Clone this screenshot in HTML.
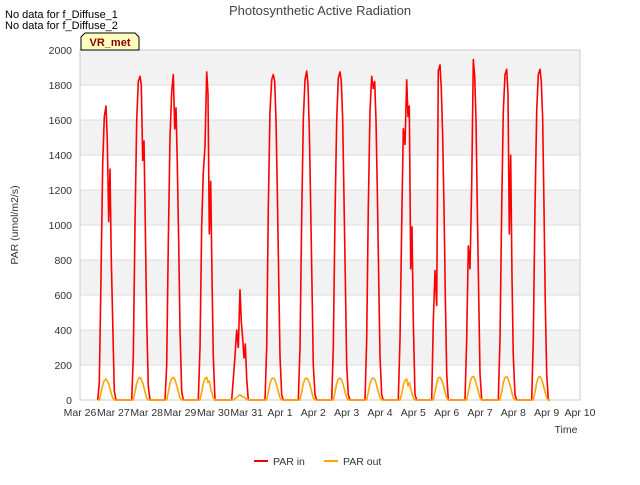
<!DOCTYPE html>
<html><head><meta charset="utf-8"><style>
body{margin:0;background:#fff;font-family:"Liberation Sans",sans-serif;}
svg text{font-family:"Liberation Sans",sans-serif;}
</style></head><body>
<svg width="640" height="480" viewBox="0 0 640 480">
<g id="bands"></g><g id="grid"></g><g id="axes"></g><g id="series"></g>
<text x="320" y="15" text-anchor="middle" font-size="13" fill="#444">Photosynthetic Active Radiation</text>
<text x="5" y="18" font-size="11" fill="#000">No data for f_Diffuse_1</text>
<text x="5" y="29" font-size="11" fill="#000">No data for f_Diffuse_2</text>
<g>
<path d="M81,50 L81,37 L85,33 L135,33 L139,37 L139,50 Z" fill="#ffffc0" stroke="#000" stroke-width="1"/>
<text x="110" y="46" text-anchor="middle" font-size="11" font-weight="bold" fill="#8b0000">VR_met</text></g>
<text x="18" y="225" transform="rotate(-90 18 225)" text-anchor="middle" font-size="10.5" fill="#333">PAR (umol/m2/s)</text>
<text x="566" y="433" text-anchor="middle" font-size="10.5" fill="#333">Time</text>
<g>
<g><line x1="254" y1="461" x2="268" y2="461" stroke="#e00" stroke-width="2"/><text x="273" y="465" font-size="10.5" fill="#333">PAR in</text></g>
<g><line x1="324" y1="461" x2="338" y2="461" stroke="#ffa500" stroke-width="2"/><text x="343" y="465" font-size="10.5" fill="#333">PAR out</text></g>
</g>
</svg>
<script>
const xTickLabels=["Mar 26","Mar 27","Mar 28","Mar 29","Mar 30","Mar 31","Apr 1","Apr 2","Apr 3","Apr 4","Apr 5","Apr 6","Apr 7","Apr 8","Apr 9","Apr 10"];
const yTicks=[0,200,400,600,800,1000,1200,1400,1600,1800,2000];
const dayPeakTimes=[0.78,1.8,2.8,3.8,4.8,5.8,6.8,7.8,8.8,9.8,10.8,11.8,12.8,13.8];
const offsets=[-0.25,-0.2,-0.15,-0.1,-0.05,0,0.04,0.08,0.12,0.16,0.2,0.25,0.3];
const parIn=[
[0,100,700,1350,1620,1680,1480,1020,1320,800,450,50,0],
[0,250,1000,1600,1820,1850,1800,1370,1480,1000,450,80,0],
[0,200,900,1500,1760,1860,1550,1670,1350,900,400,50,0],
[0,300,1000,1300,1450,1875,1750,950,1250,700,250,0,0],
[0,120,250,400,300,630,450,350,240,320,120,0,0],
[0,300,1100,1650,1830,1860,1820,1600,1200,700,250,30,0],
[0,300,1050,1600,1830,1880,1800,1550,1100,650,200,30,0],
[0,300,1050,1600,1840,1875,1820,1600,1150,700,200,30,0],
[0,350,1100,1650,1850,1780,1820,1600,1200,700,250,30,0],
[0,350,1000,1550,1460,1830,1620,1680,750,990,450,30,0],
[0,450,740,540,1880,1915,1780,1500,1100,600,150,0,0],
[0,350,880,750,1230,1945,1850,1600,1100,600,150,0,0],
[0,350,1100,1650,1860,1890,1750,950,1400,700,250,30,0],
[0,350,1100,1650,1860,1890,1820,1600,1100,550,150,0,0]];
const parOut=[
[0,0,40,85,112,120,108,92,65,38,12,0,0],
[0,0,45,95,122,130,118,98,70,40,12,0,0],
[0,0,45,95,122,130,118,98,70,40,12,0,0],
[0,0,45,95,122,130,100,110,65,40,12,0,0],
[0,0,8,15,22,30,24,18,15,10,5,0,0],
[0,0,45,95,120,125,118,98,70,40,12,0,0],
[0,0,45,95,120,125,118,98,70,40,12,0,0],
[0,0,45,95,120,125,118,98,70,40,12,0,0],
[0,0,45,95,120,125,118,98,70,40,12,0,0],
[0,0,35,85,112,120,80,100,65,38,12,0,0],
[0,0,45,95,126,130,118,98,70,40,12,0,0],
[0,0,45,100,128,135,122,98,70,40,12,0,0],
[0,0,45,100,128,135,122,98,70,40,12,0,0],
[0,0,45,100,128,135,122,98,70,40,12,0,0]];
const NS="http://www.w3.org/2000/svg";
const L=80,R=580,T=50,B=400;
const xs=t=>L+(R-L)*t/15, ys=v=>B-(B-T)*v/2000;
function mk(tag,at,p){const e=document.createElementNS(NS,tag);for(const k in at)e.setAttribute(k,at[k]);p.appendChild(e);return e;}
const bands=document.getElementById('bands'),grid=document.getElementById('grid'),axes=document.getElementById('axes'),series=document.getElementById('series');
mk('rect',{x:L,y:T,width:R-L,height:B-T,fill:'#fff'},bands);
for(let i=0;i<yTicks.length-1;i++){if(i%2===1){const r=mk('rect',{x:L,y:ys(yTicks[i+1]),width:R-L,height:ys(yTicks[i])-ys(yTicks[i+1]),fill:'#f2f2f2'},bands);

}}
yTicks.forEach(v=>{const l=mk('line',{x1:L,x2:R,y1:ys(v),y2:ys(v),stroke:'#ddd'},grid);


const t=mk('text',{x:L-8,y:ys(v)+4,'text-anchor':'end','font-size':10.5,fill:'#333'},axes);t.textContent=v;

});
xTickLabels.forEach((s,i)=>{const t=mk('text',{x:xs(i),y:B+16,'text-anchor':'middle','font-size':10.5,fill:'#333'},axes);t.textContent=s;

});
mk('rect',{x:L,y:T,width:R-L,height:B-T,fill:'none',stroke:'#ccc'},grid);
function path(vals,color,name){let d='';vals.forEach((row,k)=>{row.forEach((v,j)=>{const t=dayPeakTimes[k]+offsets[j];d+=(d?'L':'M')+xs(t).toFixed(1)+','+ys(v).toFixed(1)+' ';});});
const p=mk('path',{d:d,fill:'none',stroke:color,'stroke-width':1.6,'stroke-linejoin':'round'},series);

}
path(parIn,'#ff0000','par-in-line');
path(parOut,'#ffa500','par-out-line');
</script>
</body></html>
